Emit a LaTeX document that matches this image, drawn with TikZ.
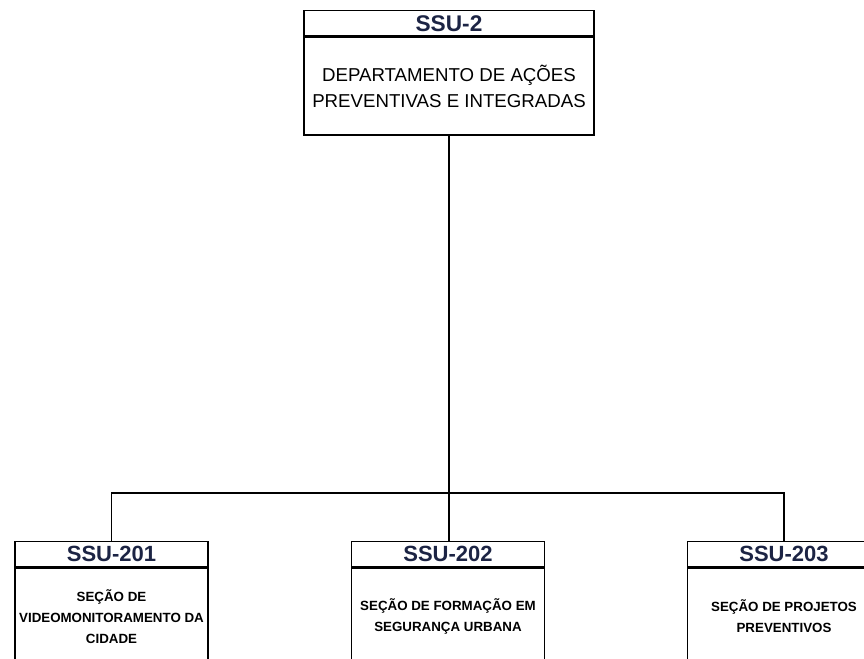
\documentclass[tikz,border=0pt]{standalone}
\usepackage{fontspec}
\setmainfont{Liberation Sans}
\definecolor{navy}{HTML}{1C2444}
\begin{document}
\begin{tikzpicture}[x=0.75pt,y=-0.75pt,
  box/.style={draw=black, line width=1.1pt, rectangle, inner sep=0pt, align=center},
  tophdr/.style={box, minimum width=217.5pt, minimum height=18.75pt, font=\fontsize{17}{18}\selectfont\bfseries, text=navy},
  subhdr/.style={box, minimum width=144.75pt, minimum height=18.75pt, font=\fontsize{16.5}{18}\selectfont\bfseries, text=navy},
  topbody/.style={box, minimum width=217.5pt, minimum height=73.5pt, font=\fontsize{14}{19.5}\selectfont},
  subbody/.style={box, minimum width=144.75pt, minimum height=72pt, font=\fontsize{10}{15.75}\selectfont\bfseries},
  link/.style={draw=black, line width=1.1pt}]
\useasboundingbox (0,0) rectangle (864,659);
\clip (0,0) rectangle (864,659);
% top box
\node[tophdr, anchor=north] (h2) at (449,10) {SSU-2};
\node[topbody, anchor=north] (b2) at (h2.south) {DEPARTAMENTO DE AÇÕES\\PREVENTIVAS E INTEGRADAS};
% bottom boxes
\node[subhdr, anchor=north] (h201) at (111.5,541) {SSU-201};
\node[subbody, anchor=north] (b201) at (h201.south) {SEÇÃO DE\\VIDEOMONITORAMENTO DA\\CIDADE};
\node[subhdr, anchor=north] (h202) at (448,541) {SSU-202};
\node[subbody, anchor=north] (b202) at (h202.south) {SEÇÃO DE FORMAÇÃO EM\\SEGURANÇA URBANA};
\node[subhdr, anchor=north] (h203) at (784,541) {SSU-203};
\node[subbody, anchor=north] (b203) at (h203.south) {SEÇÃO DE PROJETOS\\PREVENTIVOS};
% connectors
\coordinate (bus) at (0,493);
\draw[link] (b2.south) -- (b2.south |- h202.north);
\draw[link] (h201.north) -- (h201.north |- bus) -- (h203.north |- bus) -- (h203.north);
\end{tikzpicture}
\end{document}
